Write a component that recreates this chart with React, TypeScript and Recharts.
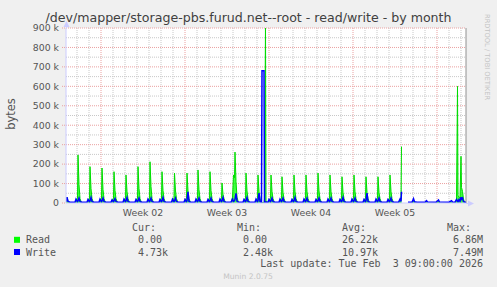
import React from 'react';
import {
  ComposedChart,
  Area,
  Line,
  XAxis,
  YAxis,
  CartesianGrid,
  ReferenceLine
} from 'recharts';

// time axis in hours from the left edge of the graph, values in k bytes
const hours = [
  0, 2, 4, 8,
  18, 20, 23, 24, 26, 28, 31,
  42, 44, 47, 48, 50, 52, 55,
  66, 68, 71, 72, 74, 76, 79,
  90, 92, 95, 96, 98, 100, 103,
  114, 116, 119, 120, 122, 124, 127,
  138, 140, 143, 144, 146, 148, 151,
  162, 164, 167, 168, 170, 172, 175,
  186, 188, 191, 192, 194, 196, 199,
  211, 213, 216, 217, 219, 221, 224,
  236, 238, 241, 242, 244, 246, 249,
  258, 260, 263, 264, 266, 268, 271,
  282, 284, 287, 288, 290, 292, 295,
  306, 308, 311, 312, 314, 316, 319,
  330, 333, 335, 337, 338, 340, 342, 345,
  354, 356, 359, 360, 362, 364, 367,
  378, 380, 383, 384, 386, 388, 391,
  392, 396, 397, 399, 400,
  404, 406, 409, 410, 412, 414, 417,
  426, 428, 431, 432, 434, 436, 439,
  450, 452, 455, 456, 458, 460, 463,
  474, 476, 479, 480, 482, 484, 487,
  498, 500, 503, 504, 506, 508, 511,
  522, 524, 527, 528, 530, 532, 535,
  546, 548, 551, 552, 554, 556, 559,
  570, 572, 575, 576, 578, 580, 583,
  594, 596, 599, 600, 602, 604, 607,
  618, 620, 623, 624, 626, 628, 631,
  642, 644, 647, 648, 650, 652, 655,
  665, 668, 670, 671,
  676,
  684, 692, 695, 697, 702, 718, 721, 723, 740, 745, 747, 766, 771,
  773, 778, 781, 783, 784, 786, 788, 790, 791, 793, 795, 797, 800
];

const readK: (number | null)[] = [
  25, 30, 10, 2,
  2, 12, 25, 247, 95, 22, 2,
  2, 12, 25, 187, 75, 22, 2,
  2, 12, 25, 180, 70, 22, 2,
  2, 12, 25, 161, 65, 22, 2,
  2, 12, 25, 144, 60, 22, 2,
  2, 12, 25, 187, 75, 22, 2,
  2, 12, 25, 212, 85, 22, 2,
  2, 12, 25, 161, 65, 22, 2,
  2, 12, 25, 154, 62, 22, 2,
  2, 12, 25, 154, 62, 22, 2,
  2, 12, 25, 170, 68, 22, 2,
  2, 12, 25, 161, 65, 22, 2,
  2, 12, 25, 103, 45, 22, 2,
  2, 30, 144, 130, 262, 110, 30, 2,
  2, 12, 25, 154, 62, 22, 2,
  2, 12, 25, 144, 60, 22, 2,
  2, 2, 20, 920, 10,
  2, 12, 25, 144, 60, 22, 2,
  2, 12, 25, 135, 55, 22, 2,
  2, 12, 25, 144, 60, 22, 2,
  2, 12, 25, 144, 60, 22, 2,
  2, 12, 25, 154, 62, 22, 2,
  2, 12, 25, 144, 60, 22, 2,
  2, 12, 25, 135, 55, 22, 2,
  2, 12, 25, 144, 60, 22, 2,
  2, 12, 25, 135, 55, 22, 2,
  2, 12, 25, 135, 55, 22, 2,
  2, 12, 25, 144, 60, 22, 2,
  2, 12, 20, 290,
  null,
  0, 0, 8, 2, 0, 0, 3, 0, 0, 8, 0, 0, 3,
  0, 0, 15, 600, 40, 30, 25, 240, 80, 60, 20, 5, 0
];

const writeK: (number | null)[] = [
  6, 30, 8, 4,
  4, 20, 6, 12, 25, 8, 4,
  4, 18, 6, 12, 28, 8, 4,
  4, 20, 6, 12, 25, 8, 4,
  4, 16, 6, 12, 22, 8, 4,
  4, 20, 6, 12, 28, 8, 4,
  4, 18, 6, 12, 25, 8, 4,
  4, 20, 6, 12, 25, 8, 4,
  4, 18, 6, 12, 28, 8, 4,
  4, 20, 6, 12, 25, 8, 4,
  4, 18, 6, 12, 57, 8, 4,
  4, 20, 6, 12, 25, 8, 4,
  4, 18, 6, 12, 25, 8, 4,
  4, 20, 6, 12, 28, 8, 4,
  4, 20, 8, 12, 20, 50, 10, 4,
  4, 18, 6, 12, 28, 8, 4,
  4, 20, 6, 12, 51, 8, 4,
  680, 680, 4, 6, 4,
  4, 18, 6, 12, 25, 8, 4,
  4, 20, 6, 12, 25, 8, 4,
  4, 18, 6, 12, 28, 8, 4,
  4, 20, 6, 12, 25, 8, 4,
  4, 18, 6, 12, 25, 8, 4,
  4, 20, 6, 12, 25, 8, 4,
  4, 18, 6, 12, 28, 8, 4,
  4, 20, 6, 12, 25, 8, 4,
  4, 18, 6, 12, 51, 8, 4,
  4, 20, 6, 12, 25, 8, 4,
  4, 18, 6, 12, 25, 8, 4,
  4, 20, 8, 58,
  null,
  4, 4, 22, 6, 4, 4, 12, 5, 4, 16, 5, 4, 12,
  5, 4, 18, 10, 6, 18, 8, 30, 20, 26, 8, 4, 4
];

const weekLabels = ['Week 02', 'Week 03', 'Week 04', 'Week 05'];
const weekLabelHours = [154, 322, 490, 658];
const weekLineHours = [70, 238, 406, 574, 742];
const yTicks = [0, 100, 200, 300, 400, 500, 600, 700, 800, 900];

const seriesNames = ['Read', 'Write'];
const curValues = ['0.00', '4.73k'];
const minValues = ['0.00', '2.48k'];
const avgValues = ['26.22k', '10.97k'];
const maxValues = ['6.86M', '7.49M'];
const lastUpdate = 'Last update: Tue Feb  3 09:00:00 2026';

const GREEN = '#00ff00';
const BLUE = '#0000ff';
const colors = [GREEN, BLUE];

const dayLineHours = Array.from({ length: 33 }, (_, i) => 22 + 24 * i).filter(
  (h) => h < 800 && !weekLineHours.includes(h)
);
const minorY = yTicks.slice(0, -1).map((v) => v + 50);
const majorY = yTicks.slice(1);

const rows = hours.map((t, i) => ({ t, read: readK[i], write: writeK[i] }));

const mono = '"DejaVu Sans Mono", monospace';
const sans = '"DejaVu Sans", sans-serif';

const App: React.FC = () => {
  return (
    <div
      style={{
        position: 'absolute',
        left: 0,
        top: 0,
        width: 497,
        height: 287,
        background: '#f0f0f0',
        fontFamily: sans,
        overflow: 'hidden'
      }}
    >
      <ComposedChart
        width={497}
        height={287}
        data={rows}
        margin={{ top: 28, right: 31, left: 0, bottom: 0 }}
      >
        <CartesianGrid
          fill="#ffffff"
          stroke="#c8c8c8"
          strokeDasharray="1 1"
          horizontalValues={minorY}
          verticalValues={dayLineHours}
        />
        <CartesianGrid
          fill="none"
          stroke="#eaa0a0"
          strokeDasharray="1 1"
          horizontalValues={majorY}
          verticalValues={weekLineHours}
        />
        <XAxis
          dataKey="t"
          type="number"
          domain={[0, 800]}
          allowDataOverflow
          ticks={weekLabelHours}
          interval={0}
          tickFormatter={(v) => weekLabels[weekLabelHours.indexOf(v)]}
          height={84}
          tickLine={false}
          tickSize={6}
          tickMargin={0}
          axisLine={{ stroke: '#ccccff' }}
          tick={{ fill: '#555555', fontSize: 9.33 }}
        />
        <YAxis
          type="number"
          domain={[0, 900]}
          allowDataOverflow
          ticks={yTicks}
          interval={0}
          width={66}
          tickFormatter={(v) => (v === 0 ? '0' : `${v} k`)}
          tickSize={4}
          tickMargin={3}
          tickLine={{ stroke: '#eaa0a0', strokeDasharray: '1 1' }}
          axisLine={{ stroke: '#ccccff' }}
          tick={{ fill: '#555555', fontSize: 9.33 }}
        />
        <ReferenceLine x={800} stroke="#909090" strokeWidth={1} />
        <Area
          type="linear"
          dataKey="read"
          stroke="#00dd00"
          strokeWidth={1}
          fill={GREEN}
          fillOpacity={0.75}
          isAnimationActive={false}
          dot={false}
          activeDot={false}
        />
        <Line
          type="linear"
          dataKey="write"
          stroke={BLUE}
          strokeWidth={1.5}
          dot={false}
          activeDot={false}
          isAnimationActive={false}
        />
      </ComposedChart>

      <svg
        width={497}
        height={287}
        style={{ position: 'absolute', left: 0, top: 0, pointerEvents: 'none' }}
      >
        <text
          x={248.5}
          y={22}
          textAnchor="middle"
          fontSize={12.6}
          fill="#404040"
          fontFamily={sans}
        >
          /dev/mapper/storage-pbs.furud.net--root - read/write - by month
        </text>
        <text
          transform="translate(15,114) rotate(-90)"
          textAnchor="middle"
          fontSize={11.5}
          fill="#555555"
          fontFamily={sans}
        >
          bytes
        </text>
        <text
          transform="translate(485,14) rotate(90)"
          textAnchor="start"
          fontSize={6.7}
          fill="#c4c4c4"
          fontFamily={sans}
        >
          RRDTOOL / TOBI OETIKER
        </text>

        {/* axis arrows */}
        <line x1={66.5} y1={28} x2={66.5} y2={23} stroke="#ccccff" />
        <polygon points="63.5,27 66.5,21 69.5,27" fill="#ccccff" />
        <line x1={466} y1={203.5} x2={470} y2={203.5} stroke="#ccccff" />
        <polygon points="468,200.5 474,203.5 468,206.5" fill="#ccccff" />

        {/* legend */}
        <g fontFamily={mono} fontSize={10} fill="#555555">
          <text x={132} y={231}>Cur:</text>
          <text x={237} y={231}>Min:</text>
          <text x={342} y={231}>Avg:</text>
          <text x={447} y={231}>Max:</text>
          {seriesNames.map((name, i) => {
            const y = 243.3 + i * 12.2;
            return (
              <g key={name}>
                <rect x={14} y={y - 6.5} width={6} height={6} fill={colors[i]} />
                <text x={26} y={y}>{name}</text>
                <text x={138} y={y}>{curValues[i]}</text>
                <text x={243} y={y}>{minValues[i]}</text>
                <text x={342} y={y}>{avgValues[i]}</text>
                <text x={453} y={y}>{maxValues[i]}</text>
              </g>
            );
          })}
          <text x={483} y={267.3} textAnchor="end" xmlSpace="preserve" style={{ whiteSpace: 'pre' }}>
            {lastUpdate}
          </text>
        </g>
        <text
          x={248}
          y={279}
          textAnchor="middle"
          fontSize={7.6}
          fill="#c4c4c4"
          fontFamily={sans}
        >
          Munin 2.0.75
        </text>
      </svg>
    </div>
  );
};

export default App;
